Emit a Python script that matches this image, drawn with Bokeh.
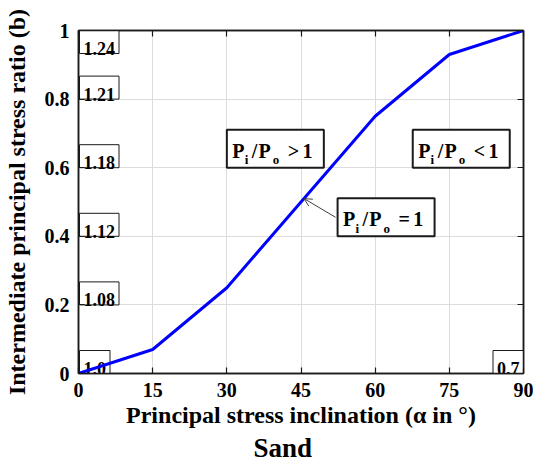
import numpy as np
from bokeh.plotting import figure
from bokeh.models import (FixedTicker, LinearAxis, NumeralTickFormatter, Title,
                          Arrow, OpenHead, Range1d, CustomJSTickFormatter)
from bokeh.core.properties import value
from bokeh.embed import file_html
from bokeh.resources import INLINE

# ---- data -------------------------------------------------------------
alpha = [0, 15, 30, 45, 60, 75, 90]                 # principal stress inclination (deg)
b_ratio = [0.0, 0.07, 0.25, 0.50, 0.75, 0.93, 1.0]  # intermediate principal stress ratio b

x_ticks = [0, 15, 30, 45, 60, 75, 90]
y_ticks = [0, 0.2, 0.4, 0.6, 0.8, 1.0]

# P_i/P_o noted along the left edge, one per b level
ratio_b = [0.0, 0.2, 0.4, 0.6, 0.8, 1.0]
ratio_text = ["1.0", "1.08", "1.12", "1.18", "1.21", "1.24"]
# P_i/P_o noted at the right end
end_b = 0.0
end_text = "0.7"

# region notes: operator, anchor (alpha, b) of the box's lower-left corner
region_ops = [">", "<", "="]
region_alpha = [30.0, 67.6, 52.4]
region_b = [0.6, 0.6, 0.4]
arrow_alpha = 45.6      # where the "= 1" note points on the curve

# ---- layout -----------------------------------------------------------
FW, FH = 445, 343
PX_X = FW / 90.0
PX_Y = FH / 1.0
SERIF = "Liberation Serif"
INK = "#1a1a1a"

p = figure(frame_width=FW, frame_height=FH,
           x_range=Range1d(0, 90), y_range=Range1d(0, 1),
           output_backend="svg", toolbar_location=None,
           min_border_left=77, min_border_right=11,
           min_border_top=30, min_border_bottom=90,
           background_fill_color="white", border_fill_color="white",
           outline_line_color=INK, outline_line_width=1.5)

def style_axis(ax, ticks):
    ax.ticker = FixedTicker(ticks=ticks)
    ax.major_tick_in = 6
    ax.major_tick_out = 0
    ax.minor_tick_line_color = None
    ax.axis_line_color = INK
    ax.axis_line_width = 1.5
    ax.major_tick_line_color = INK
    ax.major_tick_line_width = 1.2
    ax.major_label_text_font = SERIF
    ax.major_label_text_font_style = "bold"
    ax.major_label_text_font_size = "20px"
    ax.major_label_text_color = "black"
    ax.axis_label_text_font = SERIF
    ax.axis_label_text_font_style = "bold"
    ax.axis_label_text_font_size = "24px"
    ax.axis_label_text_color = "black"

style_axis(p.xaxis[0], x_ticks)
style_axis(p.yaxis[0], y_ticks)
p.xaxis[0].major_label_standoff = 9
p.xaxis[0].axis_label = "Principal stress inclination (\u03b1 in \u00b0)"
p.xaxis[0].axis_label_standoff = 2
p.yaxis[0].major_label_standoff = 9
p.yaxis[0].formatter = NumeralTickFormatter(format="0.[0]")
p.yaxis[0].axis_label = "Intermediate principal stress ratio (b)"
p.yaxis[0].axis_label_standoff = 12

# boxed frame with inward ticks on top and right as well (no labels there)
for loc, ticks in (("above", x_ticks), ("right", y_ticks)):
    ax = LinearAxis()
    style_axis(ax, ticks)
    ax.formatter = CustomJSTickFormatter(code="return '';")
    ax.major_label_text_font_size = "8px"
    ax.major_label_standoff = 0
    p.add_layout(ax, loc)

p.xgrid.ticker = FixedTicker(ticks=x_ticks)
p.ygrid.ticker = FixedTicker(ticks=y_ticks)
for g in (p.xgrid[0], p.ygrid[0]):
    g.grid_line_color = "#dcdcdc"
    g.grid_line_width = 1

p.add_layout(Title(text="Sand", align="left", offset=175, standoff=0,
                   text_font=SERIF, text_font_style="bold",
                   text_font_size="27px", text_color="black"), "below")

# ---- P_i/P_o boxes along the edges -----------------------------------
SMALL = 18
GLYPH_W = {".": 0.25}
BOX_H = 23
PAD = 4

def text_w(s, size):
    return sum(GLYPH_W.get(c, 0.5) for c in s) * size

sb_l, sb_r, sb_b, sb_t, st_x, st_y, st_txt = [], [], [], [], [], [], []
for b, t in zip(ratio_b, ratio_text):
    w = text_w(t, SMALL) + 2 * PAD
    left = 1 / PX_X
    bottom = min(b, 1 - BOX_H / PX_Y)
    sb_l.append(left); sb_r.append(left + w / PX_X)
    sb_b.append(bottom); sb_t.append(bottom + BOX_H / PX_Y)
    st_x.append(left); st_y.append(bottom); st_txt.append(t)

w = text_w(end_text, SMALL) + 2 * PAD
sb_l.append(90 - w / PX_X); sb_r.append(90)
sb_b.append(end_b); sb_t.append(end_b + BOX_H / PX_Y)
st_x.append(90 - w / PX_X); st_y.append(end_b); st_txt.append(end_text)

p.quad(left=sb_l, right=sb_r, bottom=sb_b, top=sb_t,
       fill_color="white", line_color=INK, line_width=1)
p.text(x=st_x, y=st_y, text=st_txt, x_offset=PAD, y_offset=-5,
       text_font=value(SERIF), text_font_style="bold",
       text_font_size=f"{SMALL}px", text_color="black",
       text_align="left", text_baseline="alphabetic")

# ---- region notes: P_i / P_o (op) 1 -----------------------------------
RB_W, RB_H = 97, 38
tokens_x = [5.5, 17.8, 25.0, 31.7, 46.0, 61.0, 75.7]
tokens_rise = [17, 8, 17, 17, 8, 17, 17]
tokens_size = [20, 13, 20, 20, 13, 20, 20]

p.quad(left=region_alpha,
       right=[a + RB_W / PX_X for a in region_alpha],
       bottom=region_b,
       top=[b + RB_H / PX_Y for b in region_b],
       fill_color="white", line_color=INK, line_width=2)

for size in (20, 13):
    xs, ys, ts, xo, yo = [], [], [], [], []
    for op, a, b in zip(region_ops, region_alpha, region_b):
        toks = ["P", "i", "/", "P", "o", op, "1"]
        for tk, dx, rise, sz in zip(toks, tokens_x, tokens_rise, tokens_size):
            if sz != size:
                continue
            xs.append(a); ys.append(b); ts.append(tk)
            xo.append(dx); yo.append(-rise)
    p.text(x=xs, y=ys, text=ts, x_offset=xo, y_offset=yo,
           text_font=value(SERIF), text_font_style="bold",
           text_font_size=f"{size}px", text_color="black",
           text_align="left", text_baseline="alphabetic")

# ---- curve -------------------------------------------------------------
p.line(alpha, b_ratio, line_color="#0000ff", line_width=3)

eq = region_ops.index("=")
p.add_layout(Arrow(end=OpenHead(size=8, line_width=1, line_color="#404040"),
                   x_start=region_alpha[eq] - 2 / PX_X,
                   y_start=region_b[eq] + 19 / PX_Y,
                   x_end=arrow_alpha,
                   y_end=float(np.interp(arrow_alpha, alpha, b_ratio)),
                   line_color="#404040", line_width=1))

open("out.html", "w").write(file_html(p, INLINE))
